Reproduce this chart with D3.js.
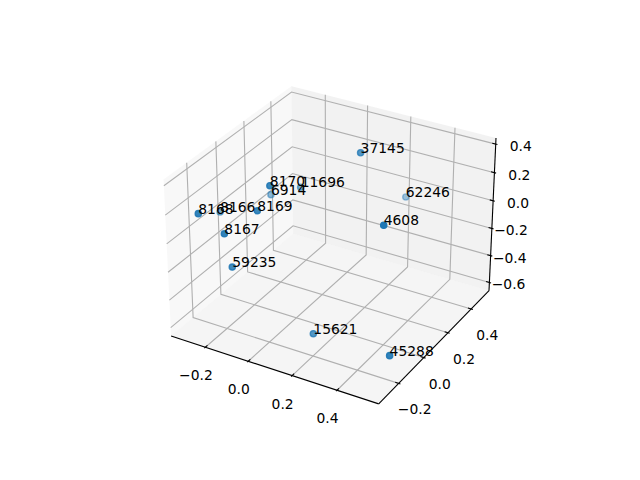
<!DOCTYPE html>
<html><head><meta charset="utf-8"><script src="https://cdn.jsdelivr.net/npm/d3@7"></script>
<style>html,body{margin:0;background:#fff}svg{display:block}text{font-family:"DejaVu Sans";font-size:13.89px;fill:#000}</style></head><body><svg id="c" width="640" height="480"></svg>
<script>
const labels=["8168","8166","8169","8167","8170","6914","11696","59235","15621","45288","37145","62246","4608"];
const xs=[-0.313,-0.373,-0.132,-0.205,-0.114,-0.244,-0.116,-0.178,0.135,0.473,0.118,0.207,0.354];
const ys=[-0.207,0.028,-0.067,-0.191,-0.002,0.205,0.227,-0.183,-0.091,-0.078,0.3,0.517,0.073];
const zs=[0.117,-0.082,0.107,0.011,0.239,-0.038,0.053,-0.219,-0.631,-0.632,0.34,-0.102,0.108];
const xT=[-0.2,0,0.2,0.4],yT=[-0.2,0,0.2,0.4],zT=[-0.6,-0.4,-0.2,0,0.2,0.4];
const xLim=[-0.344,0.563],yLim=[-0.335,0.54],zLim=[-0.64,0.42];
const el=30*Math.PI/180,az=-60*Math.PI/180,D=10;
const n=Math.hypot(4,4,3),k=1.8294640721620434/n,box=[4*k,4*k,3*k];
const sx=d3.scaleLinear().domain(xLim).range([0,box[0]]),sy=d3.scaleLinear().domain(yLim).range([0,box[1]]),sz=d3.scaleLinear().domain(zLim).range([0,box[2]]);
const px=d3.scaleLinear().domain([-0.095,0.09]).range([143.2,512.8]),py=d3.scaleLinear().domain([-0.095,0.09]).range([427.2,57.6]);
const w=[Math.cos(el)*Math.cos(az),Math.cos(el)*Math.sin(az),Math.sin(el)];
const eye=box.map((b,i)=>b/2+D*w[i]);
const cross=(a,b)=>[a[1]*b[2]-a[2]*b[1],a[2]*b[0]-a[0]*b[2],a[0]*b[1]-a[1]*b[0]];
const dot=(a,b)=>a[0]*b[0]+a[1]*b[1]+a[2]*b[2];
let u=cross([0,0,1],w);const ul=Math.hypot(...u);u=u.map(c=>c/ul);const v=cross(w,u);
function proj(x,y,z){const p=[sx(x)-eye[0],sy(y)-eye[1],sz(z)-eye[2]];const d=-dot(w,p);return [px(dot(u,p)/d),py(dot(v,p)/d),d];}
const svg=d3.select("#c");
const pad=l=>{const e=(l[1]-l[0])/48;return [l[0]-e,l[1]+e];};
const [x0,x1]=pad(xLim),[y0,y1]=pad(yLim),[z0,z1]=pad(zLim);
const line=(pts,st,sw)=>svg.append("path").attr("d",d3.line()(pts.map(p=>proj(...p).slice(0,2)))).attr("fill",st.fill||"none").attr("stroke",st.stroke||"none").attr("stroke-width",sw||0);
line([[x0,y0,z0],[x0,y1,z0],[x0,y1,z1],[x0,y0,z1],[x0,y0,z0]],{fill:"rgba(242,242,242,0.5)"});
line([[x0,y1,z0],[x1,y1,z0],[x1,y1,z1],[x0,y1,z1],[x0,y1,z0]],{fill:"rgba(230,230,230,0.5)"});
line([[x0,y0,z0],[x1,y0,z0],[x1,y1,z0],[x0,y1,z0],[x0,y0,z0]],{fill:"rgba(236,236,236,0.5)"});
const G="#b0b0b0";
xT.forEach(t=>line([[t,y0,z0],[t,y1,z0],[t,y1,z1]],{stroke:G},1.11));
yT.forEach(t=>line([[x1,t,z0],[x0,t,z0],[x0,t,z1]],{stroke:G},1.11));
zT.forEach(t=>line([[x0,y0,t],[x0,y1,t],[x1,y1,t]],{stroke:G},1.11));
line([[x0,y0,z0],[x1,y0,z0]],{stroke:"#000"},1.11);
line([[x1,y0,z0],[x1,y1,z0]],{stroke:"#000"},1.11);
line([[x1,y1,z0],[x1,y1,z1]],{stroke:"#000"},1.11);
const dx=(xLim[1]-xLim[0])/12,dy=(yLim[1]-yLim[0])/12;
xT.forEach(t=>line([[t,y0-.1*dy,z0],[t,y0+.2*dy,z0]],{stroke:"#000"},1.11));
yT.forEach(t=>line([[x1+.1*dx,t,z0],[x1-.2*dx,t,z0]],{stroke:"#000"},1.11));
zT.forEach(t=>line([[x1+.1*dx,y1,t],[x1-.2*dx,y1,t]],{stroke:"#000"},1.11));
const fmt=t=>(t<0?"\u2212":"")+Math.abs(t).toFixed(1);
const tl=(p,s,ox,oy,a)=>svg.append("text").attr("x",p[0]+ox).attr("y",p[1]+oy).attr("text-anchor",a||"middle").attr("dominant-baseline","central").text(s);
xT.forEach(t=>tl(proj(t,y0,z0),fmt(t),-9.5,28));
yT.forEach(t=>tl(proj(x1,t,z0),fmt(t),16,26));
zT.forEach(t=>tl(proj(x1,y1,t),fmt(t),36,2,"end"));
const ds=xs.map((_,i)=>proj(xs[i],ys[i],zs[i])[2]);
const alpha=d3.scaleLinear().domain(d3.extent(ds)).range([1,0.42]);
const order=d3.range(xs.length).sort((a,b)=>ds[b]-ds[a]);
order.forEach(i=>{const p=proj(xs[i],ys[i],zs[i]);svg.append("circle").attr("cx",p[0]).attr("cy",p[1]).attr("r",3.1).attr("fill","#1f77b4").attr("fill-opacity",alpha(ds[i])).attr("stroke","#1f77b4").attr("stroke-width",1.39).attr("stroke-opacity",alpha(ds[i]));});
labels.forEach((l,i)=>{const p=proj(xs[i],ys[i],zs[i]);svg.append("text").attr("x",p[0]).attr("y",p[1]).text(l);});
</script></body></html>
